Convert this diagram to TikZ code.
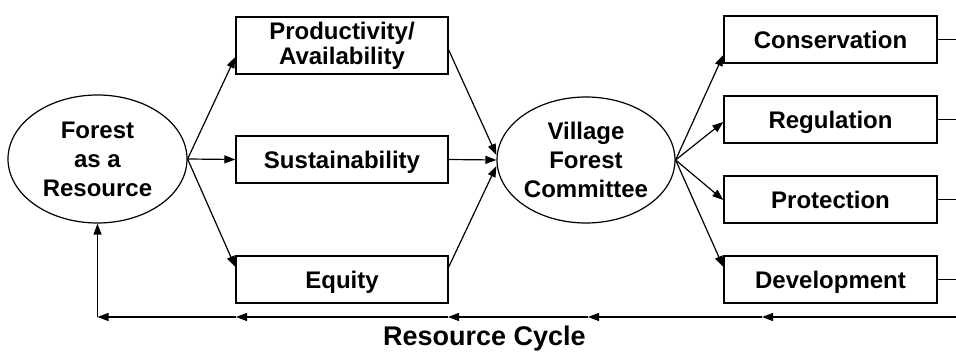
\documentclass[tikz,border=0pt]{standalone}
\usepackage{fontspec}
\setmainfont{Liberation Sans}
\usetikzlibrary{shapes.geometric,arrows.meta}
\newlength{\du}
\setlength{\du}{1pt}
\tikzset{
  blob/.style={draw, ellipse, line width=1.2\du, inner sep=0pt, align=center,
    font=\fontsize{24}{29}\selectfont\bfseries},
  aspect/.style={draw, rectangle, line width=1.4\du, inner sep=0pt,
    minimum width=212\du, minimum height=47\du, align=center,
    text height=20\du, text depth=1\du,
    font=\fontsize{24}{25}\selectfont\bfseries},
  flow/.style={line width=1.2\du, -{Triangle[length=11pt,width=8pt]}},
  plain/.style={line width=1.2\du},
}

\begin{document}
\begin{tikzpicture}[x=1\du,y=-1\du]
\useasboundingbox (0,0) rectangle (956,352);
% ellipses
\node[blob, minimum width=179\du, minimum height=128\du] (forest) at (97.5,159) {Forest\\as a\\Resource};
\node[blob, minimum width=178\du, minimum height=126\du] (village) at (586,160) {Village\\Forest\\Committee};
% middle column
\node[aspect, text height={}, text depth={}, minimum height=57\du] (prod) at (342,45.5) {Productivity/\\Availability};
\node[aspect] (sust) at (342,159.5) {Sustainability};
\node[aspect] (equity) at (342,279.5) {Equity};
% right column
\node[aspect, minimum width=213\du] (cons) at (830.5,39.5) {Conservation};
\node[aspect, minimum width=213\du] (reg) at (830.5,119.5) {Regulation};
\node[aspect, minimum width=213\du] (prot) at (830.5,199.5) {Protection};
\node[aspect, minimum width=213\du] (dev) at (830.5,279.5) {Development};
% cycle line
\coordinate (cyc5) at (956,317);
\coordinate (cyc4) at (762,317);
\coordinate (cyc3) at (588,317);
\coordinate (cyc2) at (448,317);
\coordinate (cyc1) at (236,317);
\coordinate (cyc0) at (forest.south |- cyc5);
\node[font=\fontsize{27}{29}\selectfont\bfseries] (cyclabel) at (484.5,339) {Resource Cycle};

\draw[flow] (forest.east) -- ([yshift=-11.5pt]prod.west);
\draw[flow] (forest.east) -- (sust.west);
\draw[flow] (forest.east) -- ([yshift=12.5pt]equity.west);
\draw[flow] ([yshift=-4.5pt]prod.east) -- ([yshift=5pt]village.west);
\draw[flow] (sust.east) -- (village.west);
\draw[flow] ([yshift=12.5pt]equity.east) -- ([yshift=-6pt]village.west);
\draw[flow] (village.east) -- ([yshift=-15.5pt]cons.west);
\draw[flow] (village.east) -- ([yshift=-2.5pt]reg.west);
\draw[flow] (village.east) -- ([yshift=-0.5pt]prot.west);
\draw[flow] (village.east) -- ([yshift=12.5pt]dev.west);

\draw[plain] (cons.east) -- (cons.east -| cyc5);
\draw[plain] (reg.east) -- (reg.east -| cyc5);
\draw[plain] (prot.east) -- (prot.east -| cyc5);
\draw[plain] (dev.east) -- (dev.east -| cyc5);

\draw[flow] (cyc5) -- (cyc4);
\draw[flow] (cyc4) -- (cyc3);
\draw[flow] (cyc3) -- (cyc2);
\draw[flow] (cyc2) -- (cyc1);
\draw[flow] (cyc1) -- (cyc0);
\draw[flow] (cyc0) -- (forest.south);
\end{tikzpicture}
\end{document}
